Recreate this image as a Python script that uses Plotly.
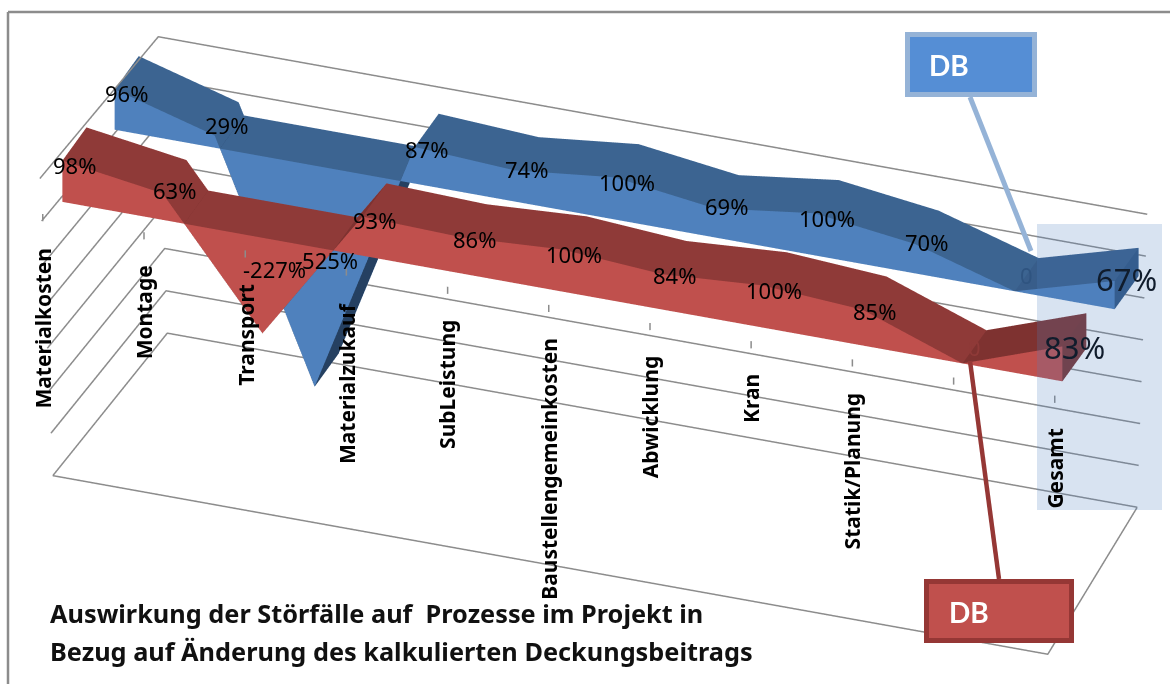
import numpy as np
import plotly.graph_objects as go

# Contribution-margin change per process, in percent of the calculated value
categories = ["Materialkosten", "Montage", "Transport", "Materialzukauf", "SubLeistung",
              "Baustellengemeinkosten", "Abwicklung", "Kran", "Statik/Planung", "", "Gesamt"]
db_blue = [96, 29, -525, 87, 74, 100, 69, 100, 70, 0, 67]
db_red = [98, 63, -227, 93, 86, 100, 84, 100, 85, 0, 83]
value_levels = [-600, -500, -400, -300, -200, -100, 0, 100]
title_lines = ["Auswirkung der Störfälle auf  Prozesse im Projekt in",
               "Bezug auf Änderung des kalkulierten Deckungsbeitrags"]

FONT = "Noto Sans"
BOX_FONT = "Lato"
GRID = "#8c8c8c"
GRID_WIDTH = 3


def crossing_polyline(values):
    """Value curve with the points where it passes through zero inserted."""
    pts = []
    for i, v in enumerate(values):
        if i and (values[i - 1] > 0 > v or values[i - 1] < 0 < v):
            u = values[i - 1]
            pts.append((i - 1 + u / (u - v), 0.0))
        pts.append((float(i), float(v)))
    return pts


def area_mesh(values, d0, d1, front, top, under, cap, rising):
    """Closed 3-D area band between the value curve and zero, depth d0..d1."""
    xs, ys, zs, ii, jj, kk, fc = [], [], [], [], [], [], []

    def quad(a, b, c, d, colour):
        n = len(xs)
        for p in (a, b, c, d):
            xs.append(p[0]); ys.append(p[1]); zs.append(p[2])
        ii.extend([n, n]); jj.extend([n + 1, n + 2]); kk.extend([n + 2, n + 3])
        fc.extend([colour, colour])

    pts = crossing_polyline(values)
    for (xa, va), (xb, vb) in zip(pts, pts[1:]):
        quad((xa, d0, 0), (xb, d0, 0), (xb, d0, vb), (xa, d0, va), front)
        quad((xa, d1, 0), (xb, d1, 0), (xb, d1, vb), (xa, d1, va), front)
        positive = va >= 0 and vb >= 0
        face = (rising if vb - va > 50 else top) if positive else under
        quad((xa, d0, va), (xb, d0, vb), (xb, d1, vb), (xa, d1, va), face)
        quad((xa, d0, 0), (xb, d0, 0), (xb, d1, 0), (xa, d1, 0), top)
    end_x, end_v = pts[-1]
    quad((end_x, d0, 0), (end_x, d1, 0), (end_x, d1, end_v), (end_x, d0, end_v), cap)
    return go.Mesh3d(x=xs, y=ys, z=zs, i=ii, j=jj, k=kk, facecolor=fc, flatshading=True,
                     lighting=dict(ambient=1, diffuse=0, specular=0, roughness=1, fresnel=0),
                     hoverinfo="skip", showscale=False)


x_index = np.arange(len(categories))
x_last = x_index[-1]
z_low, z_high = value_levels[0], value_levels[-1]


def rise(z):
    return (z - z_low) / (z_high - z_low)


# The walls narrow towards the back and flare upwards, as a receding box does
def front_left(z):
    return 0.05 - 0.13 * rise(z)


def back_left(z):
    return 0.15 - 0.09 * rise(z)


def back_right(z):
    return x_last - 0.15 + 0.10 * rise(z)


def front_tick(i):
    return i * 1.012 - 0.05


fig = go.Figure()


def grid_trace(points):
    xs, ys, zs = zip(*points)
    return go.Scatter3d(x=xs, y=ys, z=zs, mode="lines",
                        line=dict(color=GRID, width=GRID_WIDTH),
                        hoverinfo="skip", showlegend=False)


# Value grid on the left and back walls
for level in value_levels:
    fig.add_trace(grid_trace([(front_left(level), 0, level),
                              (back_left(level), 1, level),
                              (back_right(level), 1, level)]))
# Remaining floor edges
fig.add_trace(grid_trace([(front_left(z_low), 0, z_low), (x_last, 0, z_low),
                          (back_right(z_low), 1, z_low)]))
# Category tick marks on the zero line
for xi in x_index:
    fig.add_trace(grid_trace([(front_tick(xi), 0, 0), (front_tick(xi), 0, 17)]))

BLUE_D = (0.64, 0.87)
RED_D = (0.14, 0.37)
fig.add_trace(area_mesh(db_blue, *BLUE_D, "#4f81bd", "#3c6491", "#254061", "#2f5480", "#385d8a"))
fig.add_trace(area_mesh(db_red, *RED_D, "#c0504d", "#8f3a38", "#6f2b29", "#7a3230", "#7e3230"))

annotations = []


def value_labels(values, depth, faint):
    mid = sum(depth) / 2
    for i, v in enumerate(values):
        last = i == len(values) - 1
        annotations.append(dict(
            x=i, y=mid, z=v / 2, text="0" if v == 0 else f"{v}%", showarrow=False,
            xanchor="center", yanchor="middle",
            font=dict(family=FONT, size=31 if last else 22,
                      color=faint if v == 0 else "#101c2c" if last else "#000000")))


value_labels(db_blue, BLUE_D, "#2f5480")
value_labels(db_red, RED_D, "#8f3a38")
for i, name in enumerate(categories):
    if name:
        annotations.append(dict(
            x=front_tick(i), y=0, z=0, text=f"<b>{name}</b>", showarrow=False, textangle=-90,
            xanchor="center", yanchor="top", yshift=-24,
            font=dict(family=FONT, size=21, color="#000000")))

hidden = dict(visible=False, showgrid=False, zeroline=False, showline=False,
              showticklabels=False, showspikes=False, title="", showbackground=False)

# Oblique parallel view of the box; in this projection the aspect ratio sets the scale.
# The scene ranges are padded so that lines lying on the box faces are never clipped.
SCALE = 3.108
X_PAD, Y_PAD, Z_PAD = 0.4, 0.05, 30
eye_dir = np.array([0.2941, -0.8159, 0.4980])
centre = np.array([-0.0428, -0.0109, 0.0075])
distance = 5.0
eye = centre + distance * eye_dir


def frame_line(x0, y0, x1, y1, colour, width):
    return dict(type="line", xref="paper", yref="paper", x0=x0 / 1170, x1=x1 / 1170,
                y0=1 - y0 / 684, y1=1 - y1 / 684, line=dict(color=colour, width=width))


def paper_text(x, y, text, family, size, colour):
    return dict(xref="paper", yref="paper", x=x / 1170, y=1 - y / 684, text=f"<b>{text}</b>",
                showarrow=False, xanchor="left", yanchor="middle",
                font=dict(family=family, size=size, color=colour))


fig.update_layout(
    width=1170, height=684, margin=dict(l=0, r=0, t=0, b=0),
    paper_bgcolor="white", showlegend=False, font=dict(family=FONT),
    scene=dict(
        domain=dict(x=[0, 1], y=[0, 1]),
        xaxis=dict(range=[-X_PAD, x_last + X_PAD], **hidden),
        yaxis=dict(range=[-Y_PAD, 1 + Y_PAD], **hidden),
        zaxis=dict(range=[z_low - Z_PAD, z_high + Z_PAD], **hidden),
        aspectmode="manual",
        aspectratio=dict(x=SCALE * (x_last + 2 * X_PAD) / x_last,
                         y=SCALE * 0.2898 * (1 + 2 * Y_PAD),
                         z=SCALE * 0.3198 * (z_high - z_low + 2 * Z_PAD) / (z_high - z_low)),
        camera=dict(projection=dict(type="orthographic"),
                    eye=dict(x=eye[0], y=eye[1], z=eye[2]),
                    center=dict(x=centre[0], y=centre[1], z=centre[2]),
                    up=dict(x=0, y=0, z=1)),
        annotations=annotations,
    ),
    shapes=[
        # Chart frame
        frame_line(8, 12, 1170, 12, "#8c8c8c", 2.5),
        frame_line(8, 12, 8, 684, "#8c8c8c", 2.5),
        # Highlight over the total column
        dict(type="rect", xref="paper", yref="paper", x0=1037 / 1170, x1=1162 / 1170,
             y0=1 - 510 / 684, y1=1 - 224 / 684, fillcolor="rgba(79,129,189,0.22)", line=dict(width=0),
             layer="above"),
        # Callouts
        frame_line(970, 97, 1031, 251, "#95b3d7", 5),
        dict(type="rect", xref="paper", yref="paper", x0=907.5 / 1170, x1=1034.5 / 1170,
             y0=1 - 94.5 / 684, y1=1 - 34.5 / 684, fillcolor="#558ed5", line=dict(color="#95b3d7", width=5)),
        frame_line(999, 579, 970, 361, "#953735", 4.5),
        dict(type="rect", xref="paper", yref="paper", x0=926.5 / 1170, x1=1071.5 / 1170,
             y0=1 - 640.5 / 684, y1=1 - 581.5 / 684, fillcolor="#c0504d", line=dict(color="#953735", width=5)),
    ],
    annotations=[
        paper_text(927, 65, "DB", BOX_FONT, 28, "white"),
        paper_text(947, 612, "DB", BOX_FONT, 28, "white"),
        paper_text(48, 613, title_lines[0], FONT, 25.3, "#111111"),
        paper_text(48, 651, title_lines[1], FONT, 25.3, "#111111"),
    ],
)

fig.write_html("out.html")
